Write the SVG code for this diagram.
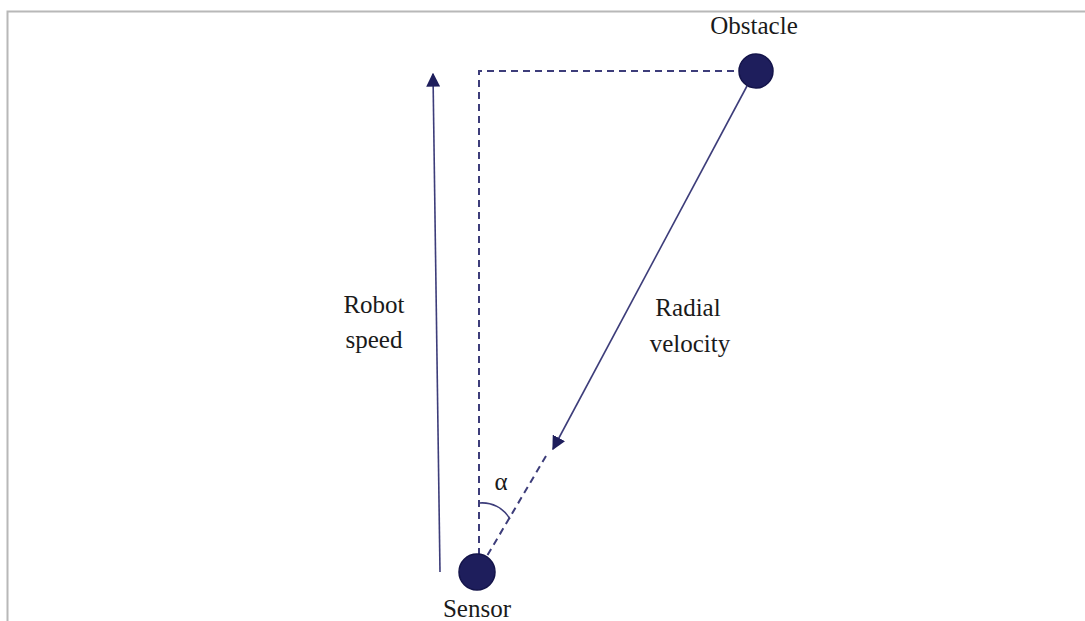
<svg xmlns="http://www.w3.org/2000/svg" width="1085" height="621" viewBox="0 0 1085 621">
<style>
.lbl{font-family:"Liberation Serif",serif;font-size:25px;fill:#1a1a1a;text-anchor:middle}
.ln{stroke:#3d3d7a;stroke-width:1.6;fill:none}
.dash{stroke:#3d3d7a;stroke-width:2;fill:none;stroke-dasharray:7,5}
.node{fill:#1e1e5c;stroke:#14144a;stroke-width:1.5}
</style>
<defs>
<marker id="ah2" viewBox="0 0 10 10" refX="9" refY="5" markerWidth="14" markerHeight="14" markerUnits="userSpaceOnUse" orient="auto">
<path d="M0,0 L10,5 L0,10 Z" fill="#1e1e5c"/>
</marker>
</defs>
<rect width="1085" height="621" fill="#fff"/>
<path d="M7.5,621 V11.5 H1085" stroke="#b8b8b8" stroke-width="2" fill="none"/>
<g id="connectors">
<line class="ln" x1="440" y1="572" x2="433" y2="74" marker-end="url(#ah2)"/>
<path class="dash" d="M479,555 V71 H740"/>
<line class="ln" x1="747" y1="86" x2="553" y2="449" marker-end="url(#ah2)"/>
<line class="dash" x1="546" y1="456" x2="487" y2="556"/>
<path class="ln" d="M479,503 A32,32 0 0 1 510,519"/>
</g>
<g id="obstacle">
<circle class="node" cx="756" cy="71" r="17"/>
<text class="lbl" x="754" y="34">Obstacle</text>
</g>
<g id="sensor">
<circle class="node" cx="477" cy="572" r="18"/>
<text class="lbl" x="477" y="617">Sensor</text>
</g>
<g id="robot-speed-label">
<text class="lbl" x="374" y="313">Robot</text>
<text class="lbl" x="374" y="348">speed</text>
</g>
<g id="radial-velocity-label">
<text class="lbl" x="688" y="316">Radial</text>
<text class="lbl" x="690" y="352">velocity</text>
</g>
<g id="alpha">
<text class="lbl" x="501" y="490">α</text>
</g>
</svg>
